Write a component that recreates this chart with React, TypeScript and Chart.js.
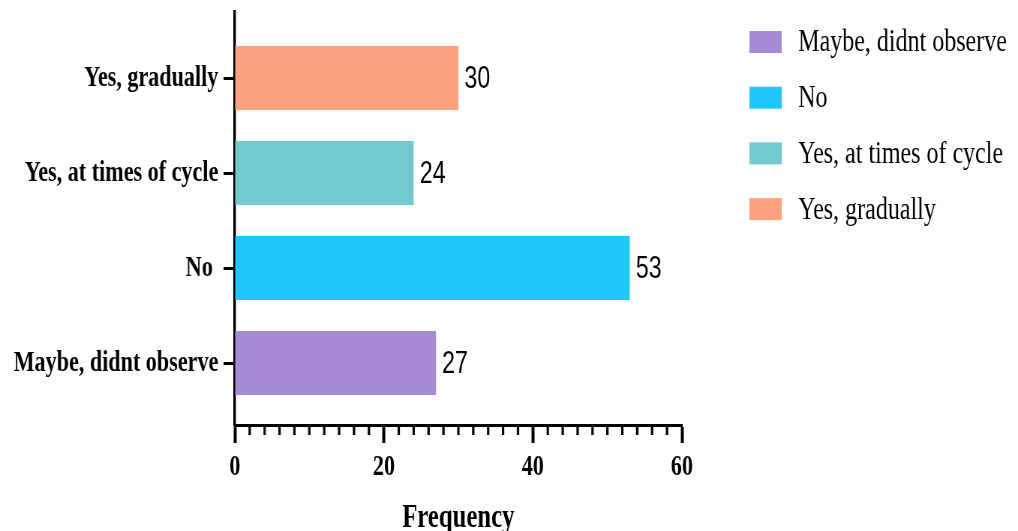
import React, { useEffect, useRef } from 'react';
import { Chart, registerables } from 'chart.js';

Chart.register(...registerables);

// ---- data ----
const categories = ['Maybe, didnt observe', 'No', 'Yes, at times of cycle', 'Yes, gradually'];
const yTickLabels = ['Maybe, didnt observe', 'No ', 'Yes, at times of cycle', 'Yes, gradually'];
const frequencies = [27, 53, 24, 30];
const barColors = ['#a68ad4', '#1fc7fe', '#72c9cf', '#fca27e'];
const xTickValues = [0, 20, 40, 60];
const xMinorStep = 2;
const xAxisTitle = 'Frequency';

// ---- canvas geometry (canvas is drawn wider and squeezed horizontally by CSS) ----
const DISPLAY_W = 1018;
const H = 531;
const SX = 0.75;
const W = Math.round(DISPLAY_W / SX);

const serif = '"Liberation Serif", "Times New Roman", serif';
const sans = '"Liberation Sans", Arial, sans-serif';

export default function App() {
  const ref = useRef<HTMLCanvasElement | null>(null);

  useEffect(() => {
    const canvas = ref.current;
    if (!canvas) return;

    const minorTicks = {
      id: 'minorTicks',
      afterDraw(chart: any) {
        const xs = chart.scales.x;
        const ctx = chart.ctx;
        const y0 = chart.chartArea.bottom;
        ctx.save();
        ctx.strokeStyle = '#000';
        ctx.lineWidth = 3.2;
        for (let v = xs.min; v <= xs.max; v += xMinorStep) {
          if (xTickValues.includes(v)) continue;
          const px = xs.getPixelForValue(v);
          ctx.beginPath();
          ctx.moveTo(px, y0);
          ctx.lineTo(px, y0 + 10);
          ctx.stroke();
        }
        ctx.restore();
      },
    };

    const valueLabels = {
      id: 'valueLabels',
      afterDatasetsDraw(chart: any) {
        const ctx = chart.ctx;
        const meta = chart.getDatasetMeta(0);
        ctx.save();
        ctx.fillStyle = '#000';
        ctx.font = `31px ${sans}`;
        ctx.textAlign = 'left';
        ctx.textBaseline = 'middle';
        meta.data.forEach((bar: any, i: number) => {
          ctx.fillText(String(frequencies[i]), bar.x + 8, bar.y + 1);
        });
        ctx.restore();
      },
    };

    const sideLegend = {
      id: 'sideLegend',
      afterDraw(chart: any) {
        const ctx = chart.ctx;
        ctx.save();
        ctx.font = `32px ${serif}`;
        ctx.textAlign = 'left';
        ctx.textBaseline = 'middle';
        categories.forEach((c, i) => {
          const cy = 42 + i * 55.7;
          ctx.fillStyle = barColors[i];
          ctx.fillRect(999, cy - 11, 43, 22);
          ctx.fillStyle = '#000';
          ctx.fillText(c, 1064, cy + 1);
        });
        ctx.restore();
      },
    };

    const chart = new Chart(canvas, {
      type: 'bar',
      data: {
        datasets: [
          {
            label: xAxisTitle,
            data: frequencies.map((v, i) => ({ x: v, y: i })),
            backgroundColor: barColors,
            borderWidth: 0,
            barPercentage: 0.674,
            categoryPercentage: 1,
          },
        ],
      },
      options: {
        indexAxis: 'y',
        responsive: false,
        maintainAspectRatio: false,
        devicePixelRatio: 1,
        animation: false,
        layout: { padding: { top: 12, right: W - 909, left: 0, bottom: 0 } },
        plugins: {
          legend: { display: false },
          tooltip: { enabled: false },
          title: { display: false },
        },
        scales: {
          x: {
            type: 'linear',
            position: 'bottom',
            min: 0,
            max: 60,
            z: 1,
            offset: false,
            afterBuildTicks: (s: any) => {
              s.ticks = xTickValues.map((v) => ({ value: v }));
            },
            afterFit: (s: any) => {
              s.height = 106;
              s.paddingLeft = 0;
              s.paddingRight = 0;
            },
            ticks: {
              color: '#000',
              padding: 7,
              maxRotation: 0,
              autoSkip: false,
              font: { family: serif, weight: 'bold', size: 29.5 },
            },
            grid: {
              drawOnChartArea: false,
              drawTicks: true,
              offset: false,
              tickLength: 18,
              tickWidth: 4,
              tickColor: '#000',
            },
            border: { display: true, color: '#000', width: 3 },
            title: {
              display: true,
              text: xAxisTitle,
              color: '#000',
              font: { family: serif, weight: 'bold', size: 33 },
              padding: { top: 0, bottom: -7 },
            },
          },
          y: {
            type: 'linear',
            position: 'left',
            min: -0.6526,
            max: 3.695,
            z: 1,
            offset: false,
            afterBuildTicks: (s: any) => {
              s.ticks = categories.map((_, i) => ({ value: i }));
            },
            afterFit: (s: any) => {
              s.width = 313;
              s.paddingTop = 0;
              s.paddingBottom = 0;
            },
            ticks: {
              color: '#000',
              padding: 7,
              autoSkip: false,
              callback: (v: any) => yTickLabels[v] ?? '',
              font: { family: serif, weight: 'bold', size: 29.5 },
            },
            grid: {
              drawOnChartArea: false,
              drawTicks: true,
              offset: false,
              tickLength: 15,
              tickWidth: 3,
              tickColor: '#000',
            },
            border: { display: true, color: '#000', width: 3.4 },
          },
        },
      },
      plugins: [minorTicks, valueLabels, sideLegend],
    } as any);

    return () => chart.destroy();
  }, []);

  return (
    <div style={{ position: 'fixed', left: 0, top: 0, width: DISPLAY_W, height: H, background: '#fff' }}>
      <canvas
        ref={ref}
        width={W}
        height={H}
        style={{ width: `${DISPLAY_W}px`, height: `${H}px`, display: 'block' }}
      />
    </div>
  );
}
